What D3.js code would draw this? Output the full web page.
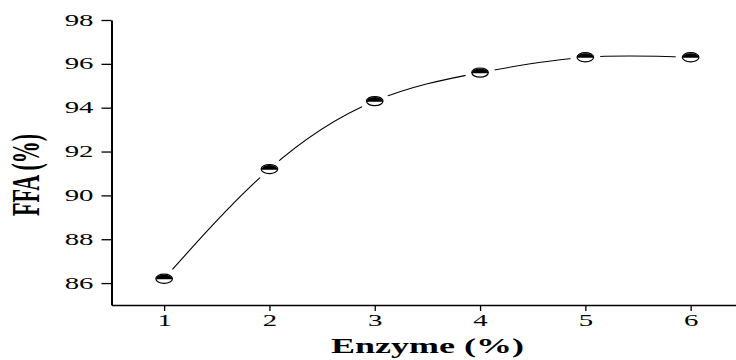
<!DOCTYPE html>
<html>
<head>
<meta charset="utf-8">
<script src="https://cdn.jsdelivr.net/npm/d3@7"></script>
<style>
  body { margin: 0; background: #fff; }
  text { font-family: "Liberation Serif", "Times New Roman", serif; fill: #000; }
</style>
</head>
<body>
<div id="canvas" style="width:736px;height:360px"></div>
<script>
// data
const enzyme = [1, 2, 3, 4, 5, 6];
const ffa = [86.2, 91.2, 94.3, 95.6, 96.3, 96.3];
const xTicks = [1, 2, 3, 4, 5, 6];
const xMinor = [0.5, 1.5, 2.5, 3.5, 4.5, 5.5, 6.5];
const yTicks = [86, 88, 90, 92, 94, 96, 98];
const yMinor = [85, 87, 89, 91, 93, 95, 97];

// the source figure is stretched sideways, so text is too
const stretch = 1.8;

let container = document.getElementById("canvas")
  , width = 736
  , height = 360
  ;

let svg = d3.select(container).append("svg")
  .attr("width", width)
  .attr("height", height);

let x = d3.scaleLinear()
  .domain([0.5, 6.5])
  .range([111.5, 743.3]);

let y = d3.scaleLinear()
  .domain([85, 98])
  .range([305, 20]);

// y axis
let gy = svg.append("g").attr("transform", "translate(" + x(0.5) + ",0)");
gy.call(d3.axisLeft(y).tickValues(yMinor).tickSize(5).tickSizeOuter(0).tickFormat(""));
gy.call(d3.axisLeft(y).tickValues(yTicks).tickSize(10).tickSizeOuter(0).tickFormat(d3.format("d")));
gy.selectAll("path.domain").attr("stroke-width", 2);
gy.selectAll(".tick line").attr("stroke-width", 1.3);
gy.selectAll(".tick text")
  .attr("x", null)
  .attr("dy", "0.32em")
  .attr("transform", "translate(-18,0) scale(" + stretch + ",1)")
  .style("font-size", "16px");

// x axis
let gx = svg.append("g").attr("transform", "translate(0," + y(85) + ")");
gx.call(d3.axisBottom(x).tickValues(xMinor).tickSize(3).tickSizeOuter(0).tickFormat(""));
gx.call(d3.axisBottom(x).tickValues(xTicks).tickSize(6).tickSizeOuter(0).tickFormat(d3.format("d")));
gx.selectAll("path.domain").attr("stroke-width", 1.5);
gx.selectAll(".tick line").attr("stroke-width", 1.3);
gx.selectAll(".tick text")
  .attr("y", 10)
  .attr("dy", "0.71em")
  .attr("transform", "scale(" + stretch + ",1)")
  .style("font-size", "16px");
svg.selectAll(".domain, .tick line").attr("stroke", "#000");

// axis titles
svg.append("text")
  .attr("transform", "translate(" + 427.5 + ",353) scale(" + stretch + ",1)")
  .attr("text-anchor", "middle")
  .style("font-size", "20px")
  .style("font-weight", "bold")
  .text("Enzyme (%)");

svg.append("text")
  .attr("transform", "translate(39,175) scale(" + stretch + ",1) rotate(-90)")
  .attr("text-anchor", "middle")
  .style("font-size", "22px")
  .style("font-weight", "bold")
  .text("FFA (%)");

// smooth curve through the points
let pts = enzyme.map(function (d, i) { return [d, ffa[i]]; });
let valueLine = d3.line()
  .x(function (d) { return x(d[0]); })
  .y(function (d) { return y(d[1]); })
  .curve(d3.curveNatural);

svg.append("path")
  .datum(pts)
  .attr("d", valueLine)
  .attr("fill", "none")
  .attr("stroke", "#000")
  .attr("stroke-width", 1.1);

// white gap around each marker
svg.append("g").selectAll("ellipse")
  .data(pts)
  .join("ellipse")
  .attr("cx", function (d) { return x(d[0]); })
  .attr("cy", function (d) { return y(d[1]); })
  .attr("rx", 15)
  .attr("ry", 11)
  .attr("fill", "#fff");

// half-filled markers
let rx = 8.3, ry = 4.6;
let mk = svg.append("g").selectAll("g")
  .data(pts)
  .join("g")
  .attr("transform", function (d) { return "translate(" + x(d[0]) + "," + y(d[1]) + ")"; });

mk.append("ellipse")
  .attr("rx", rx)
  .attr("ry", ry)
  .attr("fill", "#fff")
  .attr("stroke", "#000")
  .attr("stroke-width", 1.2);

mk.append("path")
  .attr("d", "M" + (-rx) + ",0.6 A" + rx + "," + ry + " 0 0 1 " + rx + ",0.6 Z")
  .attr("fill", "#000");
</script>
</body>
</html>
